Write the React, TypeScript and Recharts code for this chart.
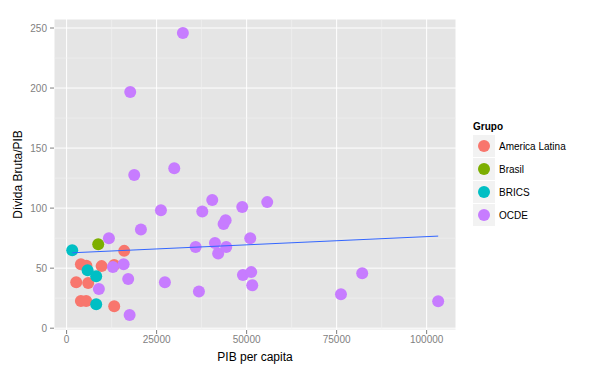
import React from 'react'
import {
  ComposedChart,
  Scatter,
  XAxis,
  YAxis,
  CartesianGrid,
  ReferenceLine,
} from 'recharts'

// PIB per capita (x) e Dívida Bruta/PIB (y) por grupo
const latamPib = [3970, 5500, 2670, 6000, 3970, 5440, 9720, 13220, 16000, 13220]
const latamDivida = [53.3, 52, 38.3, 37.7, 22.7, 22.7, 51.7, 52.7, 64.4, 18.3]

const brasilPib = [8780]
const brasilDivida = [70]

const bricsPib = [1560, 5830, 8220, 8220]
const bricsDivida = [65, 48.3, 43.3, 20]

const ocdePib = [
  11750, 12860, 15830, 17110, 8970, 17500, 20640, 26200, 27300, 35830, 36750,
  37680, 40450, 41200, 42100, 43600, 44170, 44340, 48780, 48970, 55720, 51000,
  51280, 51560, 82100, 76200, 103200, 32300, 17670, 18780, 29900,
]
const ocdeDivida = [
  75, 51, 53.3, 41, 32.7, 11, 82.2, 98.3, 38.3, 67.7, 30.5, 97.2, 106.7, 71,
  62.2, 86.7, 90, 67.7, 101, 44.4, 105, 75, 46.7, 35.8, 45.8, 28.3, 22.5, 245.8,
  196.7, 127.5, 133.3,
]

// reta de tendência (lm)
const trendPib = [1560, 103200]
const trendDivida = [62.8, 76.7]

const xTicks = [0, 25000, 50000, 75000, 100000]
const yTicks = [0, 50, 100, 150, 200, 250]
const xMinor = [12500, 37500, 62500, 87500]
const yMinor = [25, 75, 125, 175, 225]

const zip = (xs: number[], ys: number[]) => xs.map((x, i) => ({ x, y: ys[i] }))

const groups = [
  { name: 'America Latina', color: '#F8766D', data: zip(latamPib, latamDivida) },
  { name: 'Brasil', color: '#7CAE00', data: zip(brasilPib, brasilDivida) },
  { name: 'BRICS', color: '#00BFC4', data: zip(bricsPib, bricsDivida) },
  { name: 'OCDE', color: '#C77CFF', data: zip(ocdePib, ocdeDivida) },
]

const font = '"Liberation Sans", Arial, sans-serif'
const tickStyle = { fontSize: 10, fill: '#7F7F7F', fontFamily: font }

function GroupLegend() {
  return (
    <div
      style={{
        position: 'absolute',
        left: 473,
        top: 119,
        fontFamily: font,
        fontSize: 10,
        color: '#000',
      }}
    >
      <div style={{ fontWeight: 'bold', height: 16, lineHeight: '16px' }}>Grupo</div>
      {groups.map((g) => (
        <div key={g.name} style={{ display: 'flex', alignItems: 'center', height: 23 }}>
          <div
            style={{
              width: 22,
              height: 22,
              background: '#F2F2F2',
              borderBottom: '1px solid #fff',
              display: 'flex',
              alignItems: 'center',
              justifyContent: 'center',
            }}
          >
            <div style={{ width: 12, height: 12, borderRadius: 6, background: g.color }} />
          </div>
          <span style={{ marginLeft: 4 }}>{g.name}</span>
        </div>
      ))}
    </div>
  )
}

export default function App() {
  return (
    <div style={{ position: 'absolute', left: 0, top: 0, width: 607, height: 374, background: '#fff' }}>
      <ComposedChart
        width={607}
        height={374}
        margin={{ top: 19, right: 151, left: 0, bottom: 0 }}
      >
        <CartesianGrid fill="#E5E5E5" stroke="#FFFFFF" strokeWidth={1} />
        {xMinor.map((v) => (
          <ReferenceLine key={'x' + v} x={v} stroke="#F2F2F2" strokeWidth={0.6} />
        ))}
        {yMinor.map((v) => (
          <ReferenceLine key={'y' + v} y={v} stroke="#F2F2F2" strokeWidth={0.6} />
        ))}
        <XAxis
          type="number"
          dataKey="x"
          domain={[-3500, 108150]}
          ticks={xTicks}
          allowDataOverflow
          height={44}
          axisLine={false}
          tickSize={4}
          tickMargin={2}
          tickLine={{ stroke: '#7F7F7F' }}
          tick={tickStyle}
          label={{
            value: 'PIB per capita',
            position: 'insideBottom',
            offset: 13,
            style: { fontSize: 12, fill: '#000', fontFamily: font },
          }}
        />
        <YAxis
          type="number"
          dataKey="y"
          domain={[-1.5, 257.5]}
          ticks={yTicks}
          allowDataOverflow
          width={54}
          axisLine={false}
          tickSize={4}
          tickMargin={3}
          tickLine={{ stroke: '#7F7F7F' }}
          tick={tickStyle}
          label={{
            value: 'Dívida Bruta/PIB',
            angle: -90,
            position: 'insideLeft',
            offset: 18,
            style: { fontSize: 12, fill: '#000', fontFamily: font, textAnchor: 'middle' },
          }}
        />
        {groups.map((g) => (
          <Scatter
            key={g.name}
            name={g.name}
            data={g.data}
            fill={g.color}
            isAnimationActive={false}
            shape={(p: any) => <circle cx={p.cx} cy={p.cy} r={6} fill={g.color} />}
          />
        ))}
        <Scatter
          name="tendencia"
          data={zip(trendPib, trendDivida)}
          line={{ stroke: '#3366FF', strokeWidth: 1 }}
          shape={() => <g />}
          legendType="none"
          isAnimationActive={false}
        />
      </ComposedChart>
      <GroupLegend />
    </div>
  )
}
